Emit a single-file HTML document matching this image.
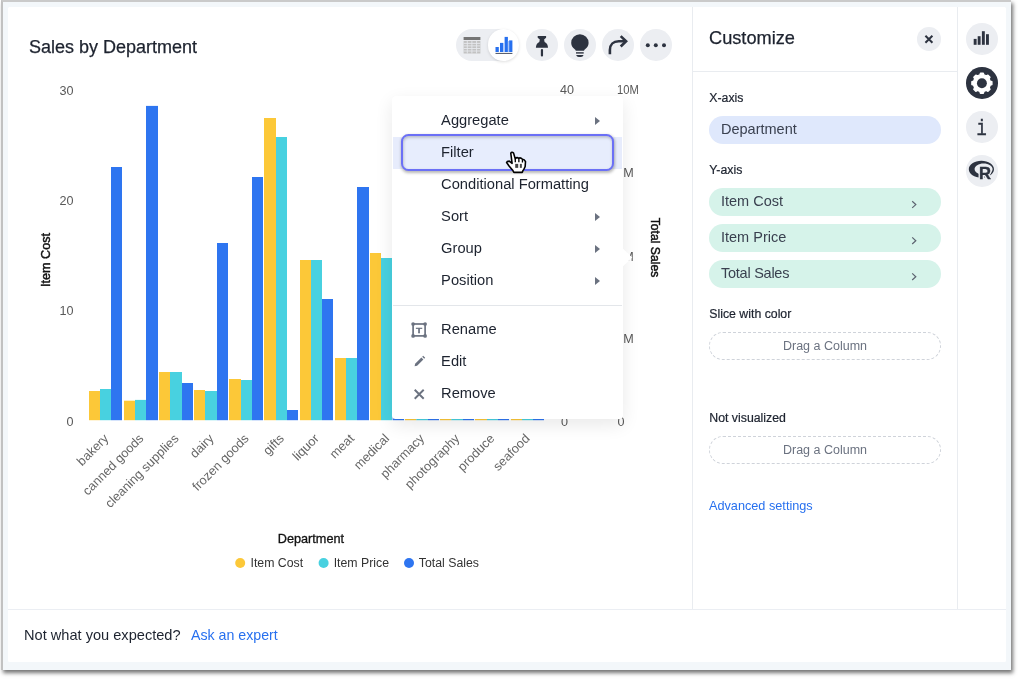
<!DOCTYPE html>
<html lang="en">
<head>
<meta charset="utf-8">
<title>Sales by Department</title>
<style>
*{box-sizing:border-box;margin:0;padding:0}
html,body{width:1018px;height:679px;overflow:hidden;background:#fff}
#root{position:absolute;left:0;top:0;width:1018px;height:679px;will-change:transform}
body{font-family:"Liberation Sans",Arial,sans-serif;color:#1d232f;position:relative}
.abs{position:absolute}
#frame{position:absolute;left:1px;top:0;width:1010px;height:670.300px;background:#f3f7fa;border-left:2px solid #c1c1c1;border-top:2px solid #cacaca;box-shadow:2px 3px 4px rgba(0,0,0,.55)}
#card{position:absolute;left:8px;top:7px;width:997.5px;height:654.5px;background:#fff;border-radius:1.5px}
#footline{position:absolute;left:8px;top:608.600px;width:997.500px;height:1.500px;background:#ebeef3}
.t{position:absolute;white-space:nowrap;line-height:1}
#title{left:29px;top:38px;font-size:18px;color:#1d232f;-webkit-text-stroke:.25px #1d232f}
#foot1{left:24px;top:627.5px;font-size:14.6px;color:#1d232f}
#foot2{left:191px;top:627.5px;font-size:14.2px;color:#2770ef}
/* toolbar */
.circ{position:absolute;width:31.6px;height:31.6px;border-radius:50%;background:#eceef2}
#pill{position:absolute;left:456px;top:29.3px;width:63px;height:31.4px;border-radius:16px;background:#eceef2}
#pillsel{position:absolute;left:488.1px;top:29.4px;width:31.2px;height:31.2px;border-radius:50%;background:#fff;box-shadow:0 1px 3px rgba(0,0,0,.13)}
/* right panel */
.vline{position:absolute;width:1px;background:#e9ecf0}
.hline{position:absolute;height:1px;background:#e9ecf0}
.lbl{font-size:12.3px;color:#1d232f;-webkit-text-stroke:.2px #1d232f}
.chip{position:absolute;left:709.3px;width:231.4px;height:27.7px;border-radius:14px}
.chip span{position:absolute;left:11.7px;top:6.2px;font-size:14.5px;line-height:1;color:#3a4150;white-space:nowrap}
.blue{background:#dfe8fc}
.mint{background:#d6f3ea}
.drag{position:absolute;left:709.3px;width:231.4px;height:27.7px;border-radius:14px;border:1px dashed #cfd3da;text-align:center;font-size:12.5px;line-height:25.7px;padding-top:1px;color:#6b7280}
/* menu */
#menu{position:absolute;left:392.300px;top:96.200px;width:230.500px;height:322.700px;background:#fff;border-radius:3.500px;box-shadow:0 6px 18px rgba(0,0,0,.09),0 0 1px rgba(0,0,0,.03)}
.mi{position:absolute;left:48.800px;font-size:14.7px;line-height:1;color:#1d232f;white-space:nowrap}
.arr{position:absolute;left:202.500px;width:0;height:0;border-left:5px solid #6b7280;border-top:4.200px solid transparent;border-bottom:4.200px solid transparent}
</style>
</head>
<body>
<div id="root">
<div id="frame"></div>
<div id="card"></div>
<div id="footline"></div>

<div class="t" id="title">Sales by Department</div>
<div class="t" id="foot1">Not what you expected?</div>
<div class="t" id="foot2">Ask an expert</div>

<!-- CHART -->
<svg id="chart" class="abs" style="left:0;top:0" width="692" height="608" viewBox="0 0 692 608" font-family="'Liberation Sans',Arial,sans-serif">
<g id="bars">
<rect x="89.0" y="391.0" width="11.0" height="29.2" fill="#fcc838"/>
<rect x="100.0" y="389.0" width="11.0" height="31.2" fill="#48d1e0"/>
<rect x="111.0" y="167.0" width="11.0" height="253.2" fill="#2e75f0"/>
<rect x="124.0" y="400.7" width="11.0" height="19.5" fill="#fcc838"/>
<rect x="135.0" y="399.9" width="11.0" height="20.3" fill="#48d1e0"/>
<rect x="146.0" y="105.9" width="12.0" height="314.3" fill="#2e75f0"/>
<rect x="159.0" y="372.0" width="11.0" height="48.2" fill="#fcc838"/>
<rect x="170.0" y="372.0" width="12.0" height="48.2" fill="#48d1e0"/>
<rect x="182.0" y="383.0" width="11.0" height="37.2" fill="#2e75f0"/>
<rect x="194.0" y="390.0" width="11.0" height="30.2" fill="#fcc838"/>
<rect x="205.0" y="391.0" width="12.0" height="29.2" fill="#48d1e0"/>
<rect x="217.0" y="243.0" width="11.0" height="177.2" fill="#2e75f0"/>
<rect x="229.0" y="379.0" width="12.0" height="41.2" fill="#fcc838"/>
<rect x="241.0" y="380.0" width="11.0" height="40.2" fill="#48d1e0"/>
<rect x="252.0" y="177.0" width="11.0" height="243.2" fill="#2e75f0"/>
<rect x="264.0" y="118.0" width="12.0" height="302.2" fill="#fcc838"/>
<rect x="276.0" y="137.0" width="11.0" height="283.2" fill="#48d1e0"/>
<rect x="287.0" y="410.0" width="11.0" height="10.2" fill="#2e75f0"/>
<rect x="300.0" y="260.0" width="11.0" height="160.2" fill="#fcc838"/>
<rect x="311.0" y="260.0" width="11.0" height="160.2" fill="#48d1e0"/>
<rect x="322.0" y="299.0" width="11.0" height="121.2" fill="#2e75f0"/>
<rect x="335.0" y="358.0" width="11.0" height="62.2" fill="#fcc838"/>
<rect x="346.0" y="358.0" width="11.0" height="62.2" fill="#48d1e0"/>
<rect x="357.0" y="187.0" width="12.0" height="233.2" fill="#2e75f0"/>
<rect x="370.0" y="253.0" width="11.0" height="167.2" fill="#fcc838"/>
<rect x="381.0" y="258.0" width="11.0" height="162.2" fill="#48d1e0"/>
<rect x="392.6" y="300.0" width="11.4" height="120.2" fill="#2e75f0"/>
<rect x="405.0" y="380.0" width="11.3" height="40.2" fill="#fcc838"/>
<rect x="416.3" y="382.0" width="11.7" height="38.2" fill="#48d1e0"/>
<rect x="428.0" y="330.0" width="11.0" height="90.2" fill="#2e75f0"/>
<rect x="440.0" y="385.0" width="11.2" height="35.2" fill="#fcc838"/>
<rect x="451.2" y="386.0" width="11.8" height="34.2" fill="#48d1e0"/>
<rect x="463.0" y="340.0" width="11.0" height="80.2" fill="#2e75f0"/>
<rect x="475.0" y="350.0" width="12.0" height="70.2" fill="#fcc838"/>
<rect x="487.0" y="352.0" width="11.0" height="68.2" fill="#48d1e0"/>
<rect x="498.0" y="300.0" width="11.0" height="120.2" fill="#2e75f0"/>
<rect x="511.0" y="370.0" width="11.0" height="50.2" fill="#fcc838"/>
<rect x="522.0" y="372.0" width="11.0" height="48.2" fill="#48d1e0"/>
<rect x="533.0" y="310.0" width="11.0" height="110.2" fill="#2e75f0"/>
</g>
<g id="labels">
<text x="73.6" y="94.7" text-anchor="end" font-size="12.6" fill="#595959">30</text>
<text x="73.6" y="205.3" text-anchor="end" font-size="12.6" fill="#595959">20</text>
<text x="73.6" y="315.1" text-anchor="end" font-size="12.6" fill="#595959">10</text>
<text x="73.6" y="425.7" text-anchor="end" font-size="12.6" fill="#595959">0</text>
<text x="560" y="94.3" font-size="12.6" fill="#595959">40</text>
<text x="561" y="425.7" font-size="12.6" fill="#595959">0</text>
<text x="617" y="94.3" font-size="12.6" fill="#595959" textLength="21.8" lengthAdjust="spacingAndGlyphs">10M</text>
<text x="617.5" y="425.7" font-size="12.6" fill="#595959">0</text>
<text x="633.8" y="177.1" text-anchor="end" font-size="12.6" fill="#595959">7.5M</text>
<text x="633.8" y="260.5" text-anchor="end" font-size="12.6" fill="#595959">5M</text>
<text x="633.8" y="342.8" text-anchor="end" font-size="12.6" fill="#595959">2.5M</text>
<text x="109.2" y="439.3" text-anchor="end" font-size="12.75" fill="#666" transform="rotate(-45 109.2 439.3)">bakery</text>
<text x="144.3" y="439.3" text-anchor="end" font-size="12.75" fill="#666" transform="rotate(-45 144.3 439.3)">canned goods</text>
<text x="179.4" y="439.3" text-anchor="end" font-size="12.75" fill="#666" transform="rotate(-45 179.4 439.3)">cleaning supplies</text>
<text x="214.5" y="439.3" text-anchor="end" font-size="12.75" fill="#666" transform="rotate(-45 214.5 439.3)">dairy</text>
<text x="249.6" y="439.3" text-anchor="end" font-size="12.75" fill="#666" transform="rotate(-45 249.6 439.3)">frozen goods</text>
<text x="284.7" y="439.3" text-anchor="end" font-size="12.75" fill="#666" transform="rotate(-45 284.7 439.3)">gifts</text>
<text x="319.8" y="439.3" text-anchor="end" font-size="12.75" fill="#666" transform="rotate(-45 319.8 439.3)">liquor</text>
<text x="354.9" y="439.3" text-anchor="end" font-size="12.75" fill="#666" transform="rotate(-45 354.9 439.3)">meat</text>
<text x="390.0" y="439.3" text-anchor="end" font-size="12.75" fill="#666" transform="rotate(-45 390.0 439.3)">medical</text>
<text x="425.1" y="439.3" text-anchor="end" font-size="12.75" fill="#666" transform="rotate(-45 425.1 439.3)">pharmacy</text>
<text x="460.2" y="439.3" text-anchor="end" font-size="12.75" fill="#666" transform="rotate(-45 460.2 439.3)">photography</text>
<text x="495.3" y="439.3" text-anchor="end" font-size="12.75" fill="#666" transform="rotate(-45 495.3 439.3)">produce</text>
<text x="530.4" y="439.3" text-anchor="end" font-size="12.75" fill="#666" transform="rotate(-45 530.4 439.3)">seafood</text>
<text x="50" y="260" text-anchor="middle" font-size="12.6" fill="#111" stroke="#111" stroke-width=".45" transform="rotate(-90 50 260)">Item Cost</text>
<text x="650.7" y="247.5" text-anchor="middle" font-size="12.2" fill="#111" stroke="#111" stroke-width=".45" transform="rotate(90 650.7 247.5)">Total Sales</text>
<text x="310.9" y="543" text-anchor="middle" font-size="12.7" fill="#111" stroke="#111" stroke-width=".3">Department</text>
<circle cx="240.2" cy="563" r="5" fill="#fcc838"/>
<text x="250.5" y="567.3" font-size="12.3" fill="#333">Item Cost</text>
<circle cx="323.6" cy="563" r="5" fill="#48d1e0"/>
<text x="333.7" y="567.3" font-size="12.3" fill="#333">Item Price</text>
<circle cx="409" cy="563" r="5" fill="#2e75f0"/>
<text x="418.8" y="567.3" font-size="12.3" fill="#333">Total Sales</text>
</g>
</svg>

<!-- TOOLBAR -->
<div id="pill"></div><div id="pillsel"></div>
<div class="circ" style="left:526.1px;top:29px"></div>
<div class="circ" style="left:564.1px;top:29px"></div>
<div class="circ" style="left:602.1px;top:29px"></div>
<div class="circ" style="left:640px;top:29px"></div>

<!-- RIGHT PANEL -->
<div class="vline" style="left:692px;top:7px;height:602px"></div>
<div class="vline" style="left:957px;top:7px;height:602px"></div>
<div class="hline" style="left:693px;top:71px;width:264px"></div>
<div class="t" style="left:709px;top:28.5px;font-size:18.2px;-webkit-text-stroke:.25px #1d232f">Customize</div>
<div class="circ" style="left:917px;top:27.3px;width:23.7px;height:23.7px"></div>
<div class="t lbl" style="left:709.3px;top:92px">X-axis</div>
<div class="chip blue" style="top:116.2px"><span>Department</span></div>
<div class="t lbl" style="left:709.3px;top:164px">Y-axis</div>
<div class="chip mint" style="top:188.2px"><span>Item Cost</span></div>
<div class="chip mint" style="top:224.3px"><span>Item Price</span></div>
<div class="chip mint" style="top:260.3px"><span style="letter-spacing:-.25px">Total Sales</span></div>
<div class="t lbl" style="left:709.3px;top:308px">Slice with color</div>
<div class="drag" style="top:332.2px">Drag a Column</div>
<div class="t lbl" style="left:709.3px;top:411.6px">Not visualized</div>
<div class="drag" style="top:436.3px">Drag a Column</div>
<div class="t" style="left:709px;top:499.5px;font-size:12.7px;color:#2770ef">Advanced settings</div>

<div class="circ" style="left:966.3px;top:23.4px"></div>
<div class="circ" style="left:966.3px;top:67.3px;background:#2d3340"></div>
<div class="circ" style="left:966.3px;top:111.3px"></div>
<div class="circ" style="left:966.3px;top:155.2px"></div>


<!-- ICONS LAYER 1 -->
<svg class="abs" style="left:0;top:0;pointer-events:none" width="1018" height="679" viewBox="0 0 1018 679" font-family="'Liberation Sans',Arial,sans-serif">
<!-- table icon -->
<rect x="463.600" y="37" width="16.800" height="3" fill="#757575"/>
<rect x="463.600" y="40.900" width="16.800" height="12.600" fill="#c2c2c2"/>
<g stroke="#e7e9ed" stroke-width=".9"><path d="M463.600 43.400h16.800M463.600 45.900h16.800M463.600 48.500h16.800M463.600 51h16.800M467.300 40.900v12.600M471.900 40.900v12.600M476.600 40.900v12.600"/></g>
<!-- bar chart icon (selected) -->
<g fill="#2770ef"><rect x="495.500" y="47" width="3.300" height="5"/><rect x="500" y="42.900" width="3.300" height="9.100"/><rect x="504.600" y="36.900" width="3.300" height="15.100"/><rect x="509.100" y="40.400" width="3.300" height="11.600"/></g>
<rect x="503.300" y="43" width="1.300" height="9" fill="#a9c6f9"/><rect x="507.900" y="41" width="1.200" height="11" fill="#a9c6f9"/>
<rect x="495.500" y="52.900" width="16.900" height="1.100" fill="#5a6070"/>
<!-- pin -->
<path d="M537.700 36H546.100V37.800L544.100 39.600L544.600 41.900C546.900 42.900 548 45 548 47.800H535.900C535.900 45 537 42.900 539.300 41.900L539.800 39.600L537.700 37.800Z" fill="#2d3340"/>
<rect x="540.850" y="49" width="2.200" height="7.500" rx="1" fill="#2d3340"/>
<!-- bulb -->
<path d="M579.900 34.200a8.700 8.700 0 0 1 8.700 8.700c0 3-1.800 4.700-3.300 6.100-.6 .6-1.200 1.100-1.200 1.700h-8.400c0-.6-.6-1.100-1.200-1.700-1.500-1.400-3.300-3.100-3.300-6.100a8.700 8.700 0 0 1 8.700-8.700z" fill="#2d3340"/>
<rect x="576" y="52.200" width="7.700" height="1.400" fill="#2d3340"/>
<path d="M576.200 55h7.300c-.3 1.300-1.300 2-2.600 2h-2.100c-1.300 0-2.300-.7-2.600-2z" fill="#2d3340"/>
<!-- share arrow -->
<path d="M609.900 54.300v-4.300c0-5.400 3.400-8.700 8.800-8.700h7.400" fill="none" stroke="#2d3340" stroke-width="2.6"/>
<path d="M620.700 36.100l5.400 5.200-5.400 5.200" fill="none" stroke="#2d3340" stroke-width="2.600"/>
<!-- more -->
<circle cx="647.8" cy="45.2" r="2" fill="#2d3340"/><circle cx="655.8" cy="45.2" r="2" fill="#2d3340"/><circle cx="664" cy="45.2" r="2" fill="#2d3340"/>
<!-- close x -->
<path d="M925.4 35.700l7 7M932.4 35.700l-7 7" stroke="#2d3340" stroke-width="2" fill="none"/>
<!-- chevrons -->
<g fill="none" stroke="#5c6370" stroke-width="1.2"><path d="M912.2 201.300l3.600 3.300-3.600 3.300"/><path d="M912.2 237.400l3.600 3.300-3.600 3.300"/><path d="M912.2 273.400l3.600 3.300-3.600 3.300"/></g>
<!-- right rail: bars -->
<g fill="#2d3340"><rect x="973.7" y="38.900" width="2.9" height="5.900"/><rect x="977.700" y="36.200" width="2.9" height="8.600"/><rect x="981.900" y="31.200" width="2.9" height="13.600"/><rect x="986" y="34.200" width="2.9" height="10.600"/></g>
<!-- gear -->
<path d="M979.92,74.93 L980.48,73.20 L983.32,73.20 L983.88,74.93 L986.34,75.95 L987.96,75.12 L989.98,77.14 L989.15,78.76 L990.17,81.22 L991.90,81.78 L991.90,84.62 L990.17,85.18 L989.15,87.64 L989.98,89.26 L987.96,91.28 L986.34,90.45 L983.88,91.47 L983.32,93.20 L980.48,93.20 L979.92,91.47 L977.46,90.45 L975.84,91.28 L973.82,89.26 L974.65,87.64 L973.63,85.18 L971.90,84.62 L971.90,81.78 L973.63,81.22 L974.65,78.76 L973.82,77.14 L975.84,75.12 L977.46,75.95Z" fill="#fff" stroke="#fff" stroke-width="1.400" stroke-linejoin="round"/>
<circle cx="981.9" cy="83.200" r="4.950" fill="#2d3340"/>
<!-- info i -->
<text transform="translate(976.400 135) scale(.76 1)" font-family="'Liberation Mono',monospace" font-size="22.400" fill="#2d3340" stroke="#2d3340" stroke-width=".5">i</text>
<!-- R logo -->
<path fill-rule="evenodd" fill="#2d3340" d="M981.400 160.800c7 0 12.600 3.800 12.600 8.500s-5.600 8.500-12.600 8.500-12.600-3.800-12.600-8.500 5.600-8.500 12.600-8.500zM983.600 163.500c-5 0-9 2.500-9 5.600s4 5.600 9 5.600 9-2.500 9-5.600-4-5.600-9-5.600z"/>
<text x="978.900" y="179.200" font-size="16.600" font-weight="bold" fill="#eceef2" stroke="#eceef2" stroke-width="3">R</text>
<text x="978.900" y="179.200" font-size="16.600" font-weight="bold" fill="#2d3340" stroke="#2d3340" stroke-width=".4">R</text>
</svg>

<!-- MENU -->
<div id="menu">
  <div class="abs" style="left:.7px;top:40.900px;width:229px;height:31.800px;background:#e7ecfc"></div>
  <div class="abs" style="left:8.600px;top:37.500px;width:212.900px;height:37.300px;border:2.300px solid #6b70f6;border-radius:7.500px;background:#e7edfd;box-shadow:.5px 1.500px 3px rgba(0,0,0,.28),inset .5px 1.500px 3px rgba(0,0,0,.22)"></div>
  <div class="mi" style="top:16.9px">Aggregate</div><div class="arr" style="top:20.7px"></div>
  <div class="mi" style="top:48.9px">Filter</div>
  <div class="mi" style="top:80.9px">Conditional Formatting</div>
  <div class="mi" style="top:112.9px">Sort</div><div class="arr" style="top:116.7px"></div>
  <div class="mi" style="top:144.9px">Group</div><div class="arr" style="top:148.7px"></div>
  <div class="mi" style="top:176.9px">Position</div><div class="arr" style="top:180.7px"></div>
  <div class="abs" style="left:1px;top:208.8px;width:228.3px;height:1px;background:#e3e6ea"></div>
  <div class="mi" style="top:225.7px">Rename</div>
  <div class="mi" style="top:257.7px">Edit</div>
  <div class="mi" style="top:289.7px">Remove</div>
</div>

<!-- ICONS LAYER 2 (menu icons, caret, cursor) -->
<svg class="abs" style="left:0;top:0;pointer-events:none" width="1018" height="679" viewBox="0 0 1018 679">
<!-- menu pointer notch -->
<path d="M622.300 248l10 9.500-10 9.500z" fill="#fff"/>
<!-- rename -->
<g fill="none" stroke="#6b7280" stroke-width="1.700"><rect x="413.100" y="324" width="12" height="11.900"/></g>
<g fill="#6b7280"><circle cx="413.100" cy="324" r="1.850"/><circle cx="425.100" cy="324" r="1.850"/><circle cx="413.100" cy="335.900" r="1.850"/><circle cx="425.100" cy="335.900" r="1.850"/></g>
<text transform="translate(416.100 332.900) scale(1.300 1)" font-family="'Liberation Sans',Arial,sans-serif" font-weight="bold" font-size="7.700" fill="#6b7280" stroke="#6b7280" stroke-width=".35">T</text>
<!-- edit pencil -->
<path d="M414.600 366.300l.5-2.500 6.300-6.300 2 2-6.300 6.300z" fill="#6b7280"/><path d="M422.200 356.800l1-1 2 2-1 1z" fill="#6b7280"/>
<!-- remove x -->
<path d="M414.700 389.700l9 9M423.700 389.700l-9 9" stroke="#6b7280" stroke-width="1.950" fill="none"/>
<!-- cursor hand -->
<g transform="translate(495 140) scale(.06631)">
<path d="M238 200 Q255 172 280 198 L305 282 Q330 255 358 276 Q385 260 414 290 Q442 288 460 325 L455 400 Q440 440 420 465 L410 488 L285 488 L270 460 L215 395 L175 340 Q180 318 215 318 L258 352 Z" fill="#fff" stroke="#000" stroke-width="24" stroke-linejoin="round"/>
<path d="M306 285V335M360 280V335M414 294V340" stroke="#000" stroke-width="20" fill="none"/>
<rect x="305" y="360" width="45" height="60" fill="#444"/><rect x="375" y="360" width="30" height="60" fill="#444"/>
</g>
</svg>
</div>
</body>
</html>
